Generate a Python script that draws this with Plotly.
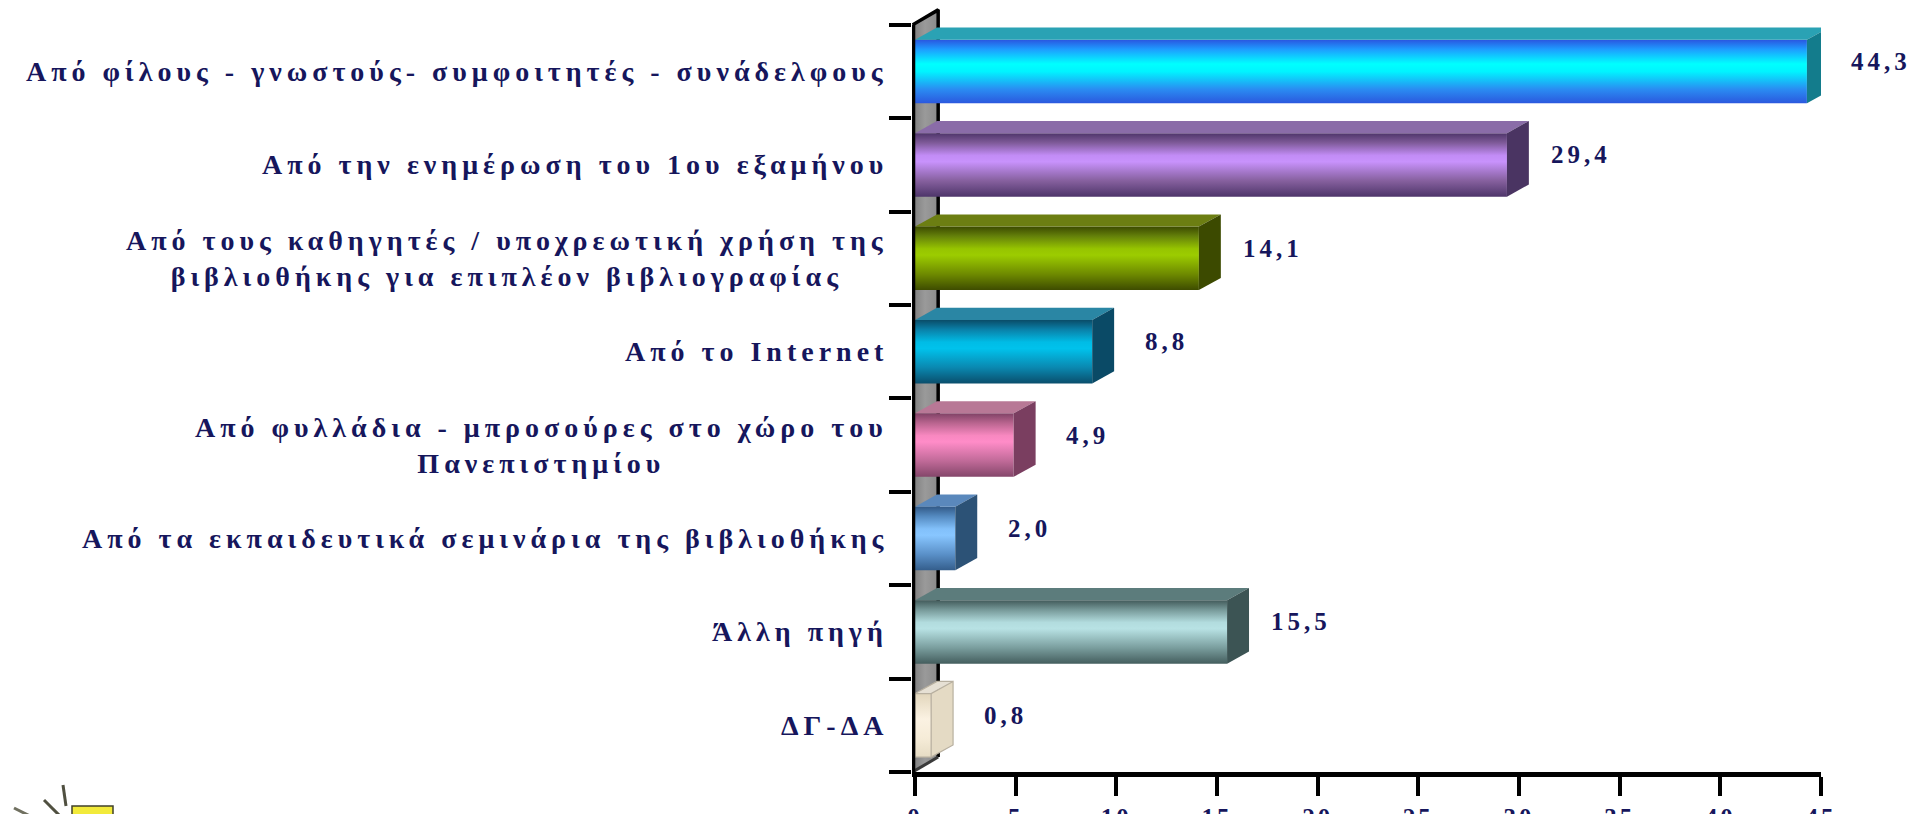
import plotly.graph_objects as go

# Survey answers (percent of respondents)
categories = [
    "Από φίλους - γνωστούς- συμφοιτητές - συνάδελφους",
    "Από την ενημέρωση του 1ου εξαμήνου",
    "Από τους καθηγητές / υποχρεωτική χρήση της<br>βιβλιοθήκης για επιπλέον βιβλιογραφίας",
    "Από το Internet",
    "Από φυλλάδια - μπροσούρες στο χώρο του<br>Πανεπιστημίου",
    "Από τα εκπαιδευτικά σεμινάρια της βιβλιοθήκης",
    "Άλλη πηγή",
    "ΔΓ-ΔΑ",
]
values = [44.3, 29.4, 14.1, 8.8, 4.9, 2.0, 15.5, 0.8]
x_ticks = [0, 5, 10, 15, 20, 25, 30, 35, 40, 45]

# Shading for each bar: front gradient (edge -> highlight -> edge), top face, side face
front_scales = [
    [[0, "#2b58de"], [0.22, "#2a8cf2"], [0.5, "#00f4ff"], [0.62, "#00ffff"], [0.85, "#1e9cff"], [1, "#2a56e0"]],
    [[0, "#4e356a"], [0.25, "#86609e"], [0.55, "#c892fc"], [0.65, "#c28cf6"], [0.85, "#7e5a98"], [1, "#4e356a"]],
    [[0, "#3e4c00"], [0.25, "#6e8a00"], [0.55, "#9ccc00"], [0.65, "#96c400"], [0.85, "#64800a"], [1, "#3c4a00"]],
    [[0, "#0a4e6c"], [0.25, "#0a88b0"], [0.55, "#00c2ec"], [0.65, "#00bce6"], [0.85, "#0a80a8"], [1, "#0a4c68"]],
    [[0, "#84466a"], [0.25, "#c06a98"], [0.55, "#ff8cc8"], [0.65, "#f888c0"], [0.85, "#b8648e"], [1, "#804266"]],
    [[0, "#345e8c"], [0.25, "#5a90c8"], [0.55, "#88c6ff"], [0.65, "#82c0fa"], [0.85, "#548ac0"], [1, "#325a88"]],
    [[0, "#445e5e"], [0.25, "#7a9e9e"], [0.55, "#b8e2e4"], [0.65, "#b2dcde"], [0.85, "#769898"], [1, "#425a5a"]],
    [[0, "#e6dcc4"], [0.3, "#f6ecd8"], [0.6, "#fbf2e2"], [1, "#e2d6bc"]],
]
top_colors = ["#2aa2b4", "#8a6ca8", "#6c7e12", "#2a86a4", "#b87896", "#5a88bc", "#5c7c7c", "#e6e0d4"]
side_colors = ["#137c8c", "#4a3462", "#3c4a00", "#0a4a66", "#7a3e60", "#2c5276", "#3c5454", "#e4dac4"]

NAVY = "#16165c"
FONT = "Liberation Serif"
HALF = 0.34     # half height of a bar's front face (category units)
DX = 1.09       # depth offset of the 3-D boxes along x (value units)
DY = 0.13       # depth offset of the 3-D boxes along y (category units)
X_LEFT = -0.15  # left end of the value axis range
WALL_BACK = 1.15
WALL_DY = 0.16
n = len(categories)
pos = list(range(n))

W, H = 1920, 814
M_L, M_R, M_T, M_B = 912, 99, 8, 42
PLOT_W = W - M_L - M_R
PLOT_H = H - M_T - M_B


def spaced(text, px):
    return f'<span style="letter-spacing:{px}px">{text}</span>'


def px_x(px):
    """Pixel column of the page -> paper x."""
    return (px - M_L) / PLOT_W


def px_y(py):
    """Pixel row of the page (from top) -> paper y."""
    return (H - M_B - py) / PLOT_H


fig = go.Figure()

# side wall of the 3-D frame
fig.add_trace(go.Scatter(
    x=[X_LEFT, X_LEFT, WALL_BACK, WALL_BACK, X_LEFT],
    y=[n - 0.5, -0.5, -0.5 - WALL_DY, n - 0.5 - WALL_DY, n - 0.5],
    mode="lines", fill="toself", line=dict(width=0),
    fillgradient=dict(type="horizontal", colorscale=[[0, "#7c7c7c"], [0.5, "#9a9a9a"], [1, "#8a8a8a"]]),
    hoverinfo="skip", showlegend=False,
))
# back edge and top edge of the wall
fig.add_trace(go.Scatter(
    x=[X_LEFT + 0.03, WALL_BACK, WALL_BACK],
    y=[-0.5, -0.5 - WALL_DY, n - 0.5 - WALL_DY],
    mode="lines", line=dict(color="black", width=3.5),
    hoverinfo="skip", showlegend=False,
))
# floor edge of the wall
fig.add_trace(go.Scatter(
    x=[X_LEFT + 0.03, WALL_BACK],
    y=[n - 0.5, n - 0.5 - WALL_DY],
    mode="lines", line=dict(color="#3a3a3a", width=3),
    hoverinfo="skip", showlegend=False,
))

# 3-D bars: front face, top face, right face
for i, v in enumerate(values):
    y0, y1 = i - HALF, i + HALF
    fig.add_trace(go.Scatter(
        x=[0, v, v, 0, 0], y=[y0, y0, y1, y1, y0],
        mode="lines", fill="toself", line=dict(width=0),
        fillgradient=dict(type="vertical", colorscale=front_scales[i]),
        hoverinfo="skip", showlegend=False,
    ))
    fig.add_trace(go.Scatter(
        x=[0, v, v + DX, DX, 0], y=[y0, y0, y0 - DY, y0 - DY, y0],
        mode="lines", fill="toself", line=dict(width=0),
        fillcolor=top_colors[i], hoverinfo="skip", showlegend=False,
    ))
    fig.add_trace(go.Scatter(
        x=[v, v + DX, v + DX, v, v], y=[y0, y0 - DY, y1 - DY, y1, y0],
        mode="lines", fill="toself", line=dict(width=0),
        fillcolor=side_colors[i], hoverinfo="skip", showlegend=False,
    ))
    if i == n - 1:
        # pale box gets a thin outline so it stays visible
        fig.add_trace(go.Scatter(
            x=[0, v, v + DX, v + DX, v, 0, 0, DX, v + DX, None, v, v],
            y=[y0, y0, y0 - DY, y1 - DY, y1, y1, y0, y0 - DY, y0 - DY, None, y0, y1],
            mode="lines", line=dict(color="#b8b0a0", width=1.2),
            hoverinfo="skip", showlegend=False,
        ))

# front edge of the category axis
fig.add_trace(go.Scatter(
    x=[X_LEFT + 0.05, X_LEFT + 0.05], y=[n - 0.5, -0.5],
    mode="lines", line=dict(color="black", width=4.5),
    hoverinfo="skip", showlegend=False,
))

# value labels, placed just beyond the end of each box
for p, v in zip(pos, values):
    fig.add_annotation(
        x=v, y=p, xref="x", yref="y",
        xanchor="center", yanchor="middle",
        xshift=74, yshift=10, showarrow=False,
        text=spaced(f"{v:.1f}".replace(".", ","), 4),
        font=dict(family=FONT, size=25, color=NAVY, weight="bold"),
    )

# category labels, right-aligned to the axis, multi-line text centred
for p, c in zip(pos, categories):
    fig.add_annotation(
        x=X_LEFT, y=p, xref="x", yref="y",
        xanchor="right", yanchor="middle", align="center",
        xshift=-22, showarrow=False,
        text=spaced(c, 5),
        font=dict(family=FONT, size=28, color=NAVY, weight="bold"),
    )

# small logo mark in the lower-left corner
fig.add_shape(type="rect", xref="paper", yref="paper",
              x0=px_x(72), x1=px_x(113), y0=px_y(820), y1=px_y(806),
              fillcolor="#f2ea3a", line=dict(color="#40402a", width=1.5))
for (ax, ay, bx, by, col) in [(44, 800, 60, 816, "#505040"),
                               (63, 785, 66, 806, "#505040"),
                               (14, 808, 30, 816, "#707060")]:
    fig.add_shape(type="line", xref="paper", yref="paper",
                  x0=px_x(ax), y0=px_y(ay), x1=px_x(bx), y1=px_y(by),
                  line=dict(color=col, width=3))

fig.update_layout(
    width=W, height=H,
    margin=dict(l=M_L, r=M_R, t=M_T, b=M_B, autoexpand=False),
    paper_bgcolor="white", plot_bgcolor="white",
    showlegend=False,
    xaxis=dict(
        range=[X_LEFT, 45], showgrid=False, zeroline=False, automargin=False,
        showline=True, linecolor="black", linewidth=4.5,
        tickmode="array", tickvals=x_ticks,
        ticktext=[spaced(str(t), 3) for t in x_ticks],
        ticks="outside", ticklen=19, tickwidth=4, tickcolor="black",
        ticklabelstandoff=0,
        tickfont=dict(family=FONT, size=25, color=NAVY, weight="bold"),
    ),
    yaxis=dict(
        range=[n - 0.5, -0.5 - WALL_DY - 0.02], showgrid=False, zeroline=False,
        automargin=False,
        showline=False, tickmode="array", tickvals=pos, ticktext=[""] * n,
        ticks="",
        minor=dict(tickmode="array", tickvals=[p - 0.5 for p in pos] + [n - 0.5],
                   ticks="outside", ticklen=22, tickwidth=3.5, tickcolor="black",
                   showgrid=False),
    ),
)

fig.write_html("out.html")
